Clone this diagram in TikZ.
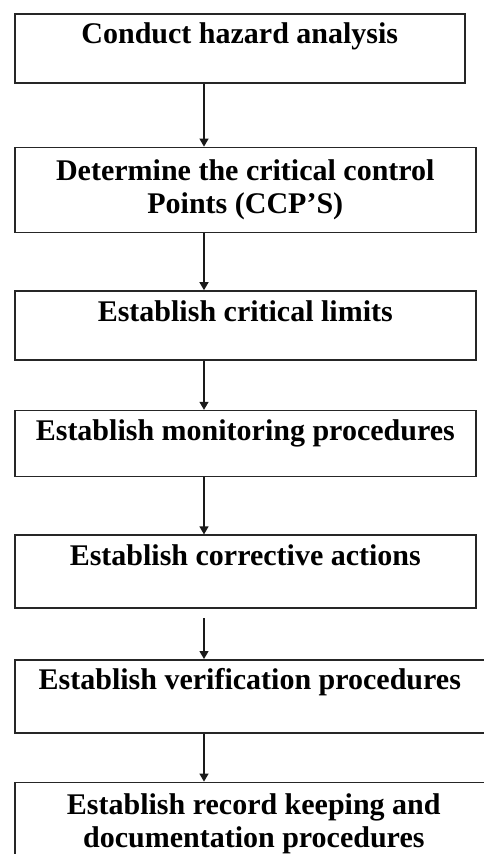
\documentclass[tikz,border=0pt]{standalone}
\usepackage{fontspec}
\setmainfont{Liberation Serif}
\usetikzlibrary{positioning,arrows.meta}
\definecolor{HBoxLine}{HTML}{262626}
\definecolor{HArrow}{HTML}{1A1A1A}

\begin{document}
\begin{tikzpicture}[x=1pt,y=1pt,
  stepbox/.style={draw=HBoxLine,line width=1.6pt,anchor=north west,align=center,inner xsep=0pt,inner ysep=0pt,text height=30pt,text depth=39pt,minimum width=461pt,font=\fontsize{30}{33}\selectfont\bfseries},
  twoline/.style={text height={},text depth={},minimum height=#1},
  flowarrow/.style={-{Triangle[length=8pt,width=9pt]},HArrow,line width=1.3pt}]
\useasboundingbox (0,0) rectangle (484,-854);
\clip (0,0) rectangle (484,-854);
\coordinate (ax) at (204,0);
\node[stepbox,minimum width=450pt] (a) at (14,-13) {Conduct hazard analysis};
\node[stepbox,twoline=85pt,below right=63pt and 0pt of a.south west] (b) {Determine the critical control\\Points (CCP'S)};
\node[stepbox,below right=57pt and 0pt of b.south west] (c) {Establish critical limits};
\node[stepbox,text depth=36pt,below right=49pt and 0pt of c.south west] (d) {Establish monitoring procedures};
\node[stepbox,text depth=43pt,below right=57pt and 0pt of d.south west] (e) {Establish corrective actions};
\node[stepbox,text depth=43pt,minimum width=470pt,below right=50pt and 0pt of e.south west] (f) {Establish verification procedures};
\node[stepbox,twoline=82pt,minimum width=478pt,below right=48pt and 0pt of f.south west] (g) {Establish record keeping and\\documentation procedures};
\draw[flowarrow] (a.south -| ax) -- (b.north -| ax);
\draw[flowarrow] (b.south -| ax) -- (c.north -| ax);
\draw[flowarrow] (c.south -| ax) -- (d.north -| ax);
\draw[flowarrow] (d.south -| ax) -- (e.north -| ax);
\draw[flowarrow,shorten <=9pt] (e.south -| ax) -- (f.north -| ax);
\draw[flowarrow] (f.south -| ax) -- (g.north -| ax);
\end{tikzpicture}
\end{document}
